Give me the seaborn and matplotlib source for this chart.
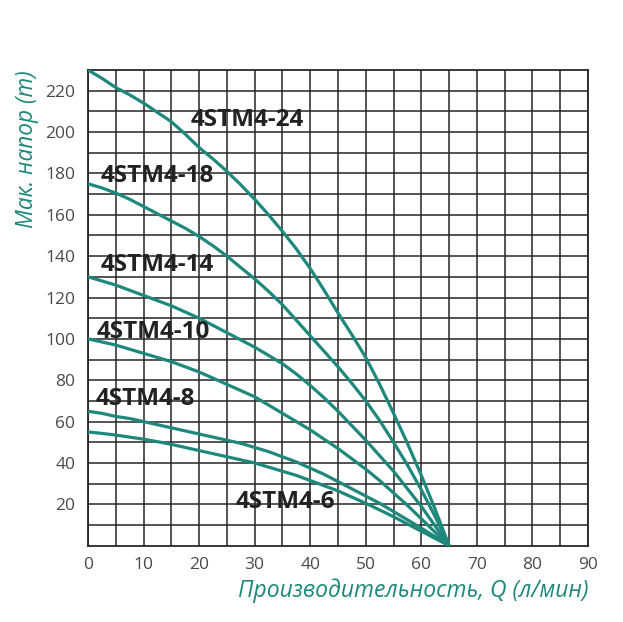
import numpy as np
import pandas as pd
import matplotlib
matplotlib.use("Agg")
import matplotlib.pyplot as plt
import seaborn as sns

# Flow rate Q (л/мин) at which heads are read
flow = [0, 2.5, 5, 7.5, 10, 12.5, 15, 17.5, 20, 22.5, 25, 27.5, 30, 32.5,
        35, 37.5, 40, 42.5, 45, 47.5, 50, 52.5, 55, 57.5, 60, 62.5, 65]

# Head (m) for each pump model
head_24 = [230, 226, 221.5, 218, 214, 209.5, 205, 199, 192.5, 187, 181, 174.5, 167.5, 160,
           152, 143.5, 134, 123.5, 112.5, 102, 91, 78, 64, 49.5, 34, 17.5, 0]
head_18 = [175, 173, 170.5, 167.5, 164, 160.5, 157, 153.5, 149.5, 145, 140, 134.5, 129, 123,
           116.5, 109, 101.5, 94, 86.5, 78.5, 70, 60.5, 50, 39, 27, 14, 0]
head_14 = [130, 128, 126, 123.5, 121, 118.5, 116, 113, 110, 106.5, 103, 99.5, 96, 92,
           88, 83, 77.5, 71.5, 65, 58, 51, 43.5, 36, 27.5, 19, 9.5, 0]
head_10 = [100, 98.5, 97, 95, 93, 91, 89, 86.5, 84, 81, 78, 75, 72, 68,
           64, 60, 56, 51.5, 47, 42, 37, 31.5, 25.5, 19.5, 13, 6.5, 0]
head_8 = [65, 64, 62.5, 61.5, 60, 58.5, 57, 55.5, 54, 52.5, 51, 49.5, 47.5, 45.5,
          43, 40.5, 37.5, 34.5, 31, 27.5, 24, 20.5, 16.5, 12.5, 8.5, 4.3, 0]
head_6 = [55, 54.3, 53.5, 52.5, 51.5, 50.3, 49, 47.5, 46, 44.5, 43, 41.5, 40, 38,
          36, 34, 31.5, 29, 26.5, 23.5, 20.5, 17.3, 14, 10.5, 7, 3.5, 0]

models = ["4STM4-24", "4STM4-18", "4STM4-14", "4STM4-10", "4STM4-8", "4STM4-6"]
# label anchor (Q, H) for each model
label_q = [18.4, 2.2, 2.2, 1.6, 1.4, 26.5]
label_h = [205.8, 178.8, 135.7, 103.5, 70.8, 21.3]

x_ticks = [0, 10, 20, 30, 40, 50, 60, 70, 80, 90]
y_ticks = [20, 40, 60, 80, 100, 120, 140, 160, 180, 200, 220]

x_label = "Производительность, Q (л/мин)"
y_label = "Мак. напор (m)"

heads = [head_24, head_18, head_14, head_10, head_8, head_6]
df = pd.concat(
    [pd.DataFrame({"Q": flow, "H": h, "model": m}) for m, h in zip(models, heads)],
    ignore_index=True,
)

sns.set_style("white")
plt.rcParams["font.family"] = ["Open Sans", "DejaVu Sans"]

teal = "#1d887b"
grid_c = "#262626"
tick_c = "#4a4a4a"

fig = plt.figure(figsize=(6.23, 6.22), dpi=100)
ax = fig.add_axes([88 / 623, 1 - 545.7 / 622, 500 / 623, (545.7 - 70) / 622])

sns.lineplot(
    data=df, x="Q", y="H", hue="model", palette=[teal] * len(models),
    linewidth=2.3, legend=False, ax=ax, zorder=3,
    solid_joinstyle="round", solid_capstyle="round",
)

ax.set_xlim(0, 90)
ax.set_ylim(0, 230)
ax.set_xticks(x_ticks)
ax.set_yticks(y_ticks)
ax.set_xticks(np.arange(5, 90, 10), minor=True)
ax.set_yticks(np.arange(10, 230, 20), minor=True)
ax.grid(True, which="both", color=grid_c, linewidth=1.1)
ax.set_axisbelow(True)
for s in ax.spines.values():
    s.set_color(grid_c)
    s.set_linewidth(1.3)

ax.tick_params(axis="both", which="both", length=0)
ax.tick_params(axis="x", pad=8, labelsize=12.5, labelcolor=tick_c)
ax.tick_params(axis="y", pad=9, labelsize=12.5, labelcolor=tick_c)

ax.set_xlabel(x_label, color=teal, fontsize=16.5, style="italic", ha="right")
ax.xaxis.set_label_coords(1.0, -0.068)
ax.set_ylabel(y_label, color=teal, fontsize=16.3, style="italic")
ax.yaxis.set_label_coords(-0.098, 0.834)

for m, q, h in zip(models, label_q, label_h):
    ax.text(q, h, m, fontsize=17.5, fontweight="bold", color="#222222",
            ha="left", va="center", zorder=4)

fig.savefig("out.png", dpi=100)
